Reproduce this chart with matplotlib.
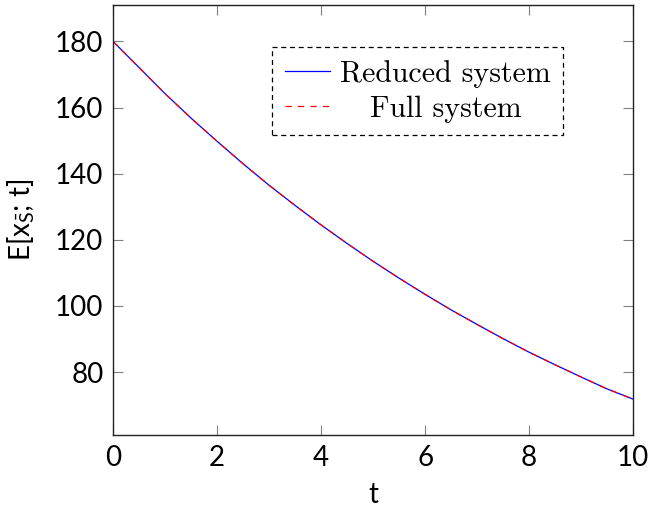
import matplotlib
matplotlib.use('Agg')
import matplotlib.pyplot as plt
from matplotlib.transforms import ScaledTranslation

# values
t = [0, 0.5, 1, 1.5, 2, 2.5, 3, 3.5, 4, 4.5, 5, 5.5, 6, 6.5, 7, 7.5, 8, 8.5, 9, 9.5, 10]
reduced = [180.0, 172.1, 164.2, 156.8, 149.8, 143.0, 136.5, 130.4, 124.5, 118.9, 113.5,
           108.4, 103.5, 98.8, 94.4, 90.1, 86.0, 82.2, 78.5, 74.9, 71.8]
full = [180.0, 172.1, 164.2, 156.8, 149.8, 143.0, 136.5, 130.4, 124.5, 118.9, 113.5,
        108.4, 103.5, 98.8, 94.4, 90.1, 86.0, 82.2, 78.5, 74.9, 71.8]
xticks = [0, 2, 4, 6, 8, 10]
yticks = [80, 100, 120, 140, 160, 180]

plt.rcParams['font.family'] = ['Lato', 'DejaVu Sans']
plt.rcParams['font.size'] = 20
plt.rcParams['mathtext.fontset'] = 'custom'
plt.rcParams['mathtext.sf'] = 'Lato'
plt.rcParams['mathtext.rm'] = 'Lato'

fig = plt.figure(figsize=(6.5, 5.11), dpi=100)
ax = fig.add_axes([0.174, 0.149, 0.80, 0.841])

ax.plot(t, reduced, color='blue', lw=0.9, label='Reduced system')
ax.plot(t, full, color='red', lw=0.9, ls=(0, (5, 5)), label='Full system')

ax.set_xlim(0, 10)
ax.set_ylim(61, 191)
ax.set_xticks(xticks)
ax.set_yticks(yticks)
ax.tick_params(direction='in', length=7, color='gray', width=0.8, top=True, right=True, pad=7)
for s in ax.spines.values():
    s.set_linewidth(1.0)
    s.set_color('#222222')

ax.set_xlabel('t', labelpad=8)
ax.set_ylabel(r'E[$\mathsf{x}_{\bar{\mathsf{S}}}$; t]', labelpad=13)

leg = ax.legend(loc='upper left', bbox_to_anchor=(0.306, 0.902), prop={'family': 'cmr10', 'size': 21.5},
                fancybox=False, framealpha=1, edgecolor='black', handlelength=1.5,
                borderpad=0.42, labelspacing=0.25, handletextpad=0.35, borderaxespad=0)
leg.get_frame().set_linestyle((0, (4, 3)))
leg.get_frame().set_linewidth(0.9)

# centre the shorter entry like pgfplots does
fig.canvas.draw()
r = fig.canvas.get_renderer()
txts = leg.get_texts()
w0 = txts[0].get_window_extent(r).width
w1 = txts[1].get_window_extent(r).width
shift = (w0 - w1) / 2 / fig.dpi
txts[1].set_transform(txts[1].get_transform() + ScaledTranslation(shift, 0, fig.dpi_scale_trans))

fig.savefig('out.png', dpi=100)
